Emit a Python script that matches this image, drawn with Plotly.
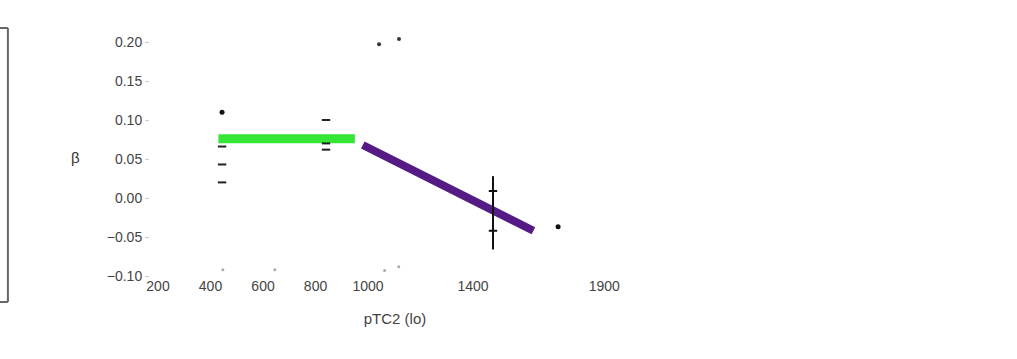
import plotly.graph_objects as go

# Segment fits
flat_x = [430, 950]
flat_y = [0.076, 0.076]
slope_x = [980, 1630]
slope_y = [0.068, -0.042]

# Observations drawn as dots
dot_x = [444, 1724]
dot_y = [0.110, -0.037]

# Small marks near the top
top_x = [1042, 1118]
top_y = [0.197, 0.204]

# Observations drawn as dashes
dash_x = [444, 444, 444, 840, 840, 840]
dash_y = [0.066, 0.043, 0.020, 0.100, 0.070, 0.062]

# Interval at the upper group
interval_x = [1476, 1476]
interval_y = [0.028, -0.066]
interval_marks_y = [0.009, -0.042]

# Faint marks near the lower edge
low_x = [447, 645, 1063, 1117]
low_y = [-0.092, -0.092, -0.093, -0.088]

x_ticks = [200, 400, 600, 800, 1000, 1400, 1900]
y_ticks = [0.20, 0.15, 0.10, 0.05, 0.00, -0.05, -0.10]

fig = go.Figure()

fig.add_trace(go.Scatter(x=flat_x, y=flat_y, mode="lines",
                         line=dict(color="#36e636", width=9), hoverinfo="skip"))
fig.add_trace(go.Scatter(x=slope_x, y=slope_y, mode="lines",
                         line=dict(color="#541a86", width=8), hoverinfo="skip"))
fig.add_trace(go.Scatter(x=interval_x, y=interval_y, mode="lines",
                         line=dict(color="#111111", width=2), hoverinfo="skip"))
fig.add_trace(go.Scatter(x=[interval_x[0]] * len(interval_marks_y), y=interval_marks_y,
                         mode="markers",
                         marker=dict(symbol="line-ew-open", size=6, color="#111111",
                                     line=dict(color="#111111", width=2)),
                         hoverinfo="skip"))
fig.add_trace(go.Scatter(x=dash_x, y=dash_y, mode="markers",
                         marker=dict(symbol="line-ew-open", size=6, color="#222222",
                                     line=dict(color="#222222", width=2)),
                         hoverinfo="skip"))
fig.add_trace(go.Scatter(x=dot_x, y=dot_y, mode="markers",
                         marker=dict(color="#111111", size=5), hoverinfo="skip"))
fig.add_trace(go.Scatter(x=top_x, y=top_y, mode="markers",
                         marker=dict(color="#333333", size=4), hoverinfo="skip"))
fig.add_trace(go.Scatter(x=low_x, y=low_y, mode="markers",
                         marker=dict(color="#aaaaaa", size=3), hoverinfo="skip"))

# Frame edge of the neighbouring panel on the left
frame_x = -0.29
frame_line = dict(color="#666666", width=2)
fig.add_shape(type="line", xref="paper", yref="paper",
              x0=frame_x, x1=frame_x, y0=-0.106, y1=1.008, line=frame_line)
fig.add_shape(type="line", xref="paper", yref="paper",
              x0=-0.4, x1=frame_x, y0=1.008, y1=1.008, line=frame_line)
fig.add_shape(type="line", xref="paper", yref="paper",
              x0=-0.4, x1=frame_x, y0=-0.106, y1=-0.106, line=frame_line)

# Upright y-axis symbol
fig.add_annotation(text="β", xref="paper", yref="paper", x=-0.165, y=0.48,
                   showarrow=False, font=dict(size=15, color="#333333"))

fig.update_layout(
    width=1017, height=359,
    margin=dict(l=150, r=377, t=30, b=83),
    paper_bgcolor="white", plot_bgcolor="white",
    showlegend=False,
    font=dict(family="Liberation Sans, Arial, sans-serif", size=14, color="#444444"),
    xaxis=dict(range=[169.5, 2036], tickvals=x_ticks,
               ticktext=[str(v) for v in x_ticks],
               showgrid=False, zeroline=False, showline=False, ticks="",
               title=dict(text="pTC2 (lo)", standoff=20, font=dict(size=15))),
    yaxis=dict(range=[-0.10, 0.2154], tickvals=y_ticks, tickformat=".2f",
               showgrid=False, zeroline=False, showline=False,
               ticks="outside", ticklen=4, tickcolor="#cccccc"),
)

fig.write_html("out.html")
